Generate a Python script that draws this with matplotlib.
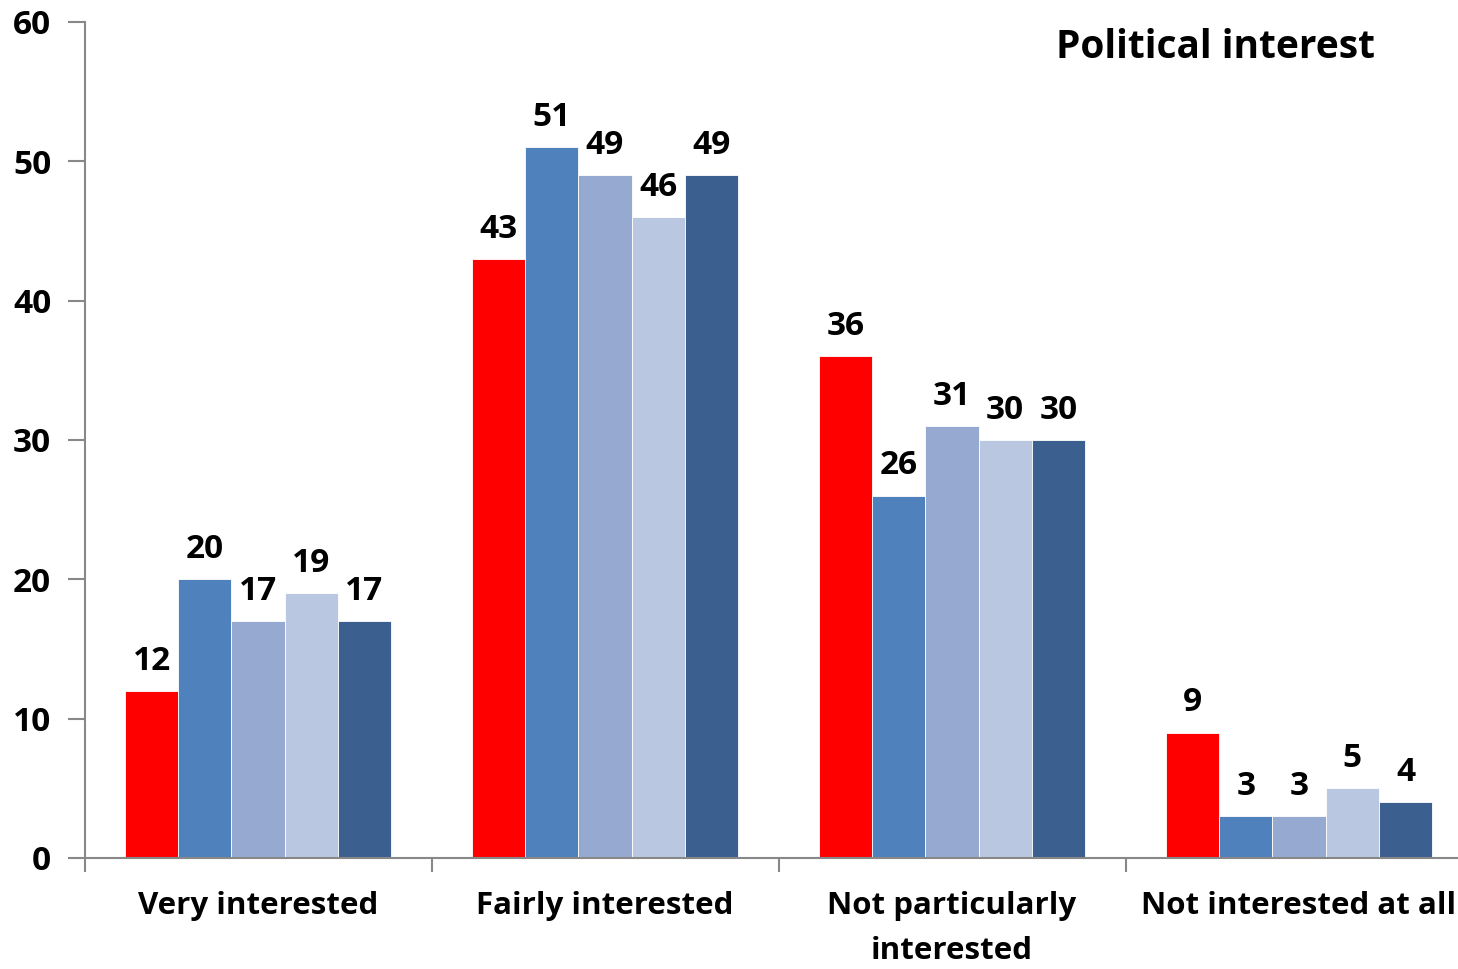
import matplotlib
matplotlib.use("Agg")
import matplotlib.pyplot as plt
import numpy as np

categories = ["Very interested", "Fairly interested", "Not particularly\ninterested", "Not interested at all"]
series_a = [12, 43, 36, 9]
series_b = [20, 51, 26, 3]
series_c = [17, 49, 31, 3]
series_d = [19, 46, 30, 5]
series_e = [17, 49, 30, 4]
colors = ["#FF0000", "#4F81BD", "#95A9D1", "#B9C7E0", "#3B5F8F"]
title = "Political interest"
y_ticks = [0, 10, 20, 30, 40, 50, 60]

plt.rcParams['font.family'] = ['Open Sans', 'DejaVu Sans']
plt.rcParams['font.weight'] = 'bold'

fig = plt.figure(figsize=(14.58, 9.69), dpi=100)
ax = fig.add_axes([84.5 / 1458, 111 / 969, 1388 / 1458, 836 / 969])

all_series = [series_a, series_b, series_c, series_d, series_e]
n = len(all_series)
group_w = 0.767
bw = group_w / n
x = np.arange(len(categories))
for i, (vals, c) in enumerate(zip(all_series, colors)):
    pos = x - group_w / 2 + bw * (i + 0.5)
    bars = ax.bar(pos, vals, width=bw, color=c, edgecolor="white", linewidth=0.6, zorder=2)
    for b, v in zip(bars, vals):
        ax.text(b.get_x() + b.get_width() / 2, v + 0.95, str(v), ha="center", va="bottom",
                fontsize=24, fontweight="bold", color="black")

ax.set_xlim(-0.5, len(categories) - 0.5)
ax.set_ylim(0, 60)
ax.set_yticks(y_ticks)
ax.set_yticklabels([str(t) for t in y_ticks], fontsize=24, fontweight="bold")
ax.set_xticks(np.arange(len(categories) + 1) - 0.5, minor=False)
ax.set_xticklabels([])
ax.tick_params(axis="x", length=10, width=1.5, color="#888888", direction="out")
ax.tick_params(axis="y", length=12, width=1.5, color="#888888", direction="out", pad=12)
for i, lab in enumerate(categories):
    ax.text(i, -2.4, lab, ha="center", va="top", fontsize=22.5, fontweight="bold",
            linespacing=1.62)

for s in ["top", "right"]:
    ax.spines[s].set_visible(False)
for s in ["left", "bottom"]:
    ax.spines[s].set_color("#888888")
    ax.spines[s].set_linewidth(1.5)

fig.text(1216 / 1458, 1 - 47 / 969, title, ha="center", va="center", fontsize=28, fontweight="bold")

fig.savefig("out.png", dpi=100)
